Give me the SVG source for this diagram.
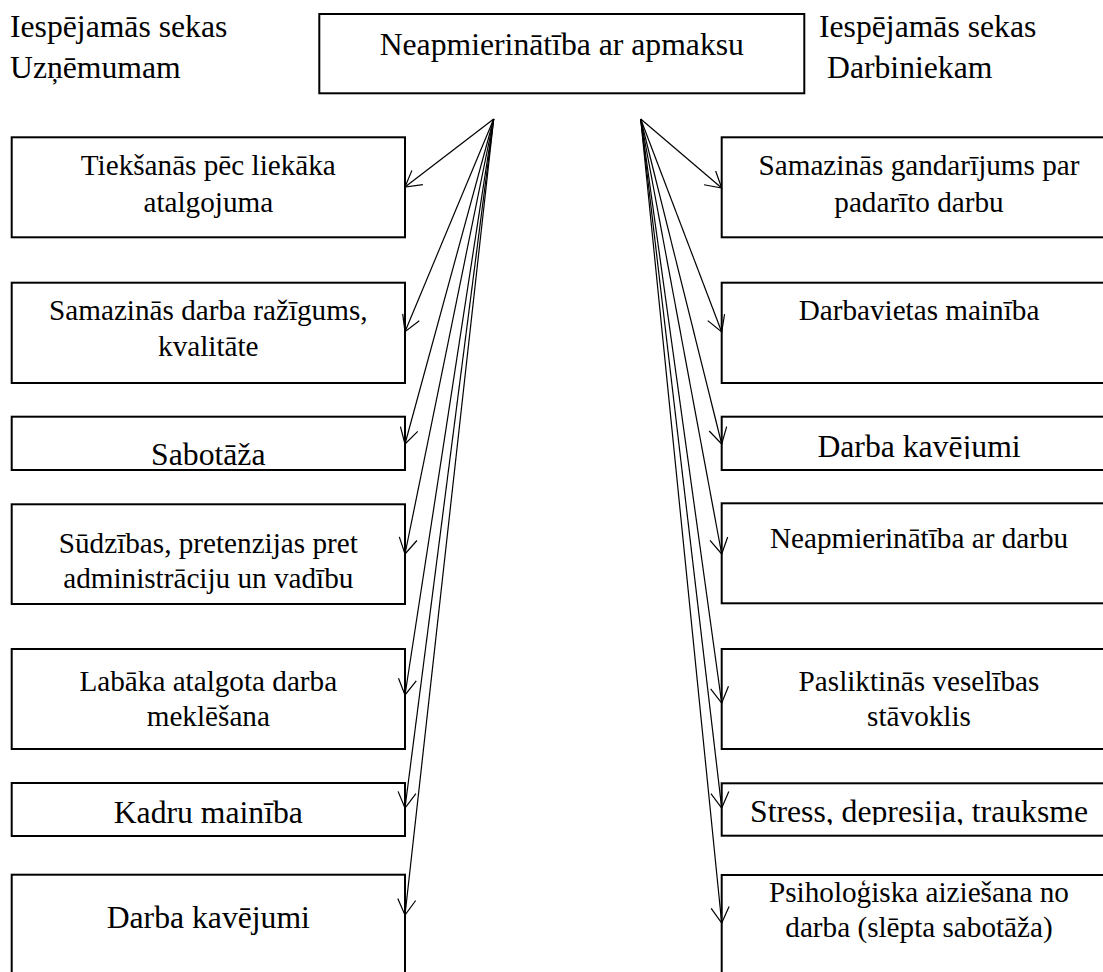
<svg xmlns="http://www.w3.org/2000/svg" width="1103" height="972" viewBox="0 0 1103 972">
<style>
  .box { fill: #fff; stroke: #000; stroke-width: 2; }
  .t { font-family: "Liberation Serif", "Times New Roman", serif; fill: #000; }
  .s { font-size: 29.2px; text-anchor: middle; }
  .b { font-size: 31.7px; text-anchor: middle; }
  .h { font-size: 31.7px; }
  .conn line { stroke: #000; stroke-width: 1.2; fill: none; marker-end: url(#arr); }
</style>
<defs>
  <marker id="arr" markerUnits="userSpaceOnUse" viewBox="-20 -12 22 24" markerWidth="22" markerHeight="24" refX="0" refY="0" orient="auto" overflow="visible">
    <path d="M -15.6 -9 L 0 0 L -15.6 9" fill="none" stroke="#000" stroke-width="1.2"/>
  </marker>
  <clipPath id="clipR3"><rect x="722" y="417" width="400" height="42"/></clipPath>
  <clipPath id="clipR6"><rect x="722" y="784" width="400" height="41"/></clipPath>
</defs>
<rect width="1103" height="972" fill="#fff"/>

<g id="header-left">
  <text class="t h" x="10" y="36.7">Iespējamās sekas</text>
  <text class="t h" x="10" y="78">Uzņēmumam</text>
</g>
<g id="header-right">
  <text class="t h" x="819" y="36.7">Iespējamās sekas</text>
  <text class="t h" x="827" y="78">Darbiniekam</text>
</g>

<g id="root">
  <rect class="box" x="319.3" y="14" width="485" height="79.3"/>
  <text class="t b" x="561.8" y="55">Neapmierinātība ar apmaksu</text>
</g>

<g id="L1">
  <rect class="box" x="11.7" y="137.3" width="393.3" height="100"/>
  <text class="t s" x="208.3" y="175">Tiekšanās pēc liekāka</text>
  <text class="t s" x="208.3" y="211.7">atalgojuma</text>
</g>
<g id="L2">
  <rect class="box" x="11.7" y="282.7" width="393.3" height="100.3"/>
  <text class="t s" x="208.3" y="320">Samazinās darba ražīgums,</text>
  <text class="t s" x="208.3" y="356">kvalitāte</text>
</g>
<g id="L3">
  <rect class="box" x="11.7" y="416.7" width="393.3" height="53.3"/>
  <text class="t b" x="208.3" y="465">Sabotāža</text>
</g>
<g id="L4">
  <rect class="box" x="11.7" y="504.3" width="393.3" height="99.7"/>
  <text class="t s" x="208.3" y="553">Sūdzības, pretenzijas pret</text>
  <text class="t s" x="208.3" y="588">administrāciju un vadību</text>
</g>
<g id="L5">
  <rect class="box" x="11.7" y="649" width="393.3" height="100"/>
  <text class="t s" x="208.3" y="691">Labāka atalgota darba</text>
  <text class="t s" x="208.3" y="726">meklēšana</text>
</g>
<g id="L6">
  <rect class="box" x="11.7" y="783" width="393.3" height="53"/>
  <text class="t b" x="208.3" y="823.3">Kadru mainība</text>
</g>
<g id="L7">
  <rect class="box" x="11.7" y="874.7" width="393.3" height="120"/>
  <text class="t b" x="208.3" y="928">Darba kavējumi</text>
</g>

<g id="R1">
  <rect class="box" x="721.7" y="137.3" width="400" height="100"/>
  <text class="t s" x="919" y="175">Samazinās gandarījums par</text>
  <text class="t s" x="919" y="211.7">padarīto darbu</text>
</g>
<g id="R2">
  <rect class="box" x="721.7" y="282.7" width="400" height="100.3"/>
  <text class="t s" x="919" y="320">Darbavietas mainība</text>
</g>
<g id="R3">
  <rect class="box" x="721.7" y="416.7" width="400" height="53.3"/>
  <text class="t b" x="919" y="456.7" clip-path="url(#clipR3)">Darba kavējumi</text>
</g>
<g id="R4">
  <rect class="box" x="721.7" y="503.3" width="400" height="100"/>
  <text class="t s" x="919" y="548.3">Neapmierinātība ar darbu</text>
</g>
<g id="R5">
  <rect class="box" x="721.7" y="649" width="400" height="100"/>
  <text class="t s" x="919" y="691">Pasliktinās veselības</text>
  <text class="t s" x="919" y="726">stāvoklis</text>
</g>
<g id="R6">
  <rect class="box" x="721.7" y="783.3" width="400" height="52.4"/>
  <text class="t b" x="919" y="821.7" clip-path="url(#clipR6)">Stress, depresija, trauksme</text>
</g>
<g id="R7">
  <rect class="box" x="721.7" y="875" width="400" height="120"/>
  <text class="t s" x="919" y="901.7">Psiholoģiska aiziešana no</text>
  <text class="t s" x="919" y="936.7">darba (slēpta sabotāža)</text>
</g>

<g id="connectors" class="conn">
  <line x1="493.7" y1="119" x2="405" y2="187"/>
  <line x1="493.7" y1="119" x2="405" y2="331.7"/>
  <line x1="493.7" y1="119" x2="405" y2="444"/>
  <line x1="493.7" y1="119" x2="405" y2="554"/>
  <line x1="493.7" y1="119" x2="405" y2="695"/>
  <line x1="493.7" y1="119" x2="405" y2="808"/>
  <line x1="493.7" y1="119" x2="405" y2="915"/>
  <line x1="640.7" y1="119" x2="721.7" y2="188"/>
  <line x1="640.7" y1="119" x2="721.7" y2="332"/>
  <line x1="640.7" y1="119" x2="721.7" y2="444"/>
  <line x1="640.7" y1="119" x2="721.7" y2="554"/>
  <line x1="640.7" y1="119" x2="721.7" y2="703"/>
  <line x1="640.7" y1="119" x2="721.7" y2="808"/>
  <line x1="640.7" y1="119" x2="721.7" y2="923"/>
</g>
</svg>
